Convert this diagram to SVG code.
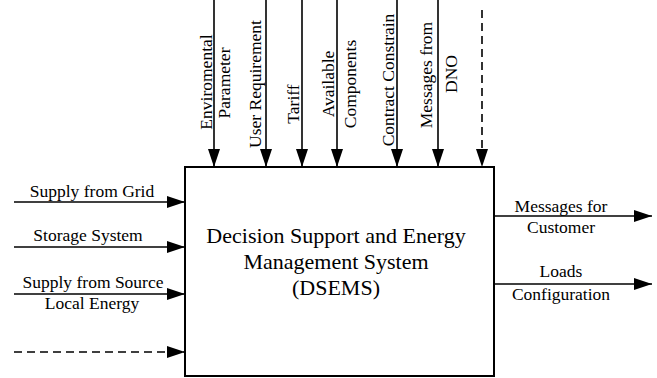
<svg xmlns="http://www.w3.org/2000/svg" width="657" height="378" viewBox="0 0 657 378">
<style>
text{font-family:"Liberation Serif","Times New Roman",serif;fill:#000}
.l{font-size:17.5px}
.m{font-size:22px;text-anchor:middle}
.c{text-anchor:middle}
.ln{stroke:#000;stroke-width:1.6;fill:none}
.d{stroke-dasharray:8 5}
</style>
<defs>
<marker id="ah" markerUnits="userSpaceOnUse" markerWidth="18" markerHeight="12" refX="18" refY="6" orient="auto">
<path d="M0,0 L18,6 L0,12 Z" fill="#000"/>
</marker>
</defs>
<rect width="657" height="378" fill="#fff"/>
<g id="dsems">
<rect x="185" y="167" width="309" height="209" fill="#fff" stroke="#000" stroke-width="2"/>
<text class="m" x="336" y="243">Decision Support and Energy</text>
<text class="m" x="336" y="269">Management System</text>
<text class="m" x="336" y="295">(DSEMS)</text>
</g>
<g id="connectors">
<line class="ln" x1="214" y1="0" x2="214" y2="167" marker-end="url(#ah)"/>
<line class="ln" x1="266" y1="0" x2="266" y2="167" marker-end="url(#ah)"/>
<line class="ln" x1="302" y1="0" x2="302" y2="167" marker-end="url(#ah)"/>
<line class="ln" x1="337" y1="0" x2="337" y2="167" marker-end="url(#ah)"/>
<line class="ln" x1="397" y1="0" x2="397" y2="167" marker-end="url(#ah)"/>
<line class="ln" x1="438" y1="0" x2="438" y2="167" marker-end="url(#ah)"/>
<line class="ln d" x1="482" y1="10" x2="482" y2="167" marker-end="url(#ah)"/>
<line class="ln" x1="14" y1="202" x2="185" y2="202" marker-end="url(#ah)"/>
<line class="ln" x1="14" y1="247" x2="185" y2="247" marker-end="url(#ah)"/>
<line class="ln" x1="14" y1="294" x2="185" y2="294" marker-end="url(#ah)"/>
<line class="ln d" x1="14" y1="352" x2="185" y2="352" marker-end="url(#ah)"/>
<line class="ln" x1="494" y1="216" x2="652" y2="216" marker-end="url(#ah)"/>
<line class="ln" x1="494" y1="284" x2="652" y2="284" marker-end="url(#ah)"/>
</g>
<g id="in-top-labels" class="l">
<text class="c" transform="translate(212,82) rotate(-90)">Enviromental</text>
<text class="c" transform="translate(230,83) rotate(-90)">Parameter</text>
<text class="c" transform="translate(261,84) rotate(-90)">User Requirement</text>
<text class="c" transform="translate(299,104) rotate(-90)">Tariff</text>
<text class="c" transform="translate(334,84) rotate(-90)">Available</text>
<text class="c" transform="translate(356,84) rotate(-90)">Components</text>
<text class="c" transform="translate(394,80) rotate(-90)">Contract Constrain</text>
<text class="c" transform="translate(432,75) rotate(-90)">Messages from</text>
<text class="c" transform="translate(457,74) rotate(-90)">DNO</text>
</g>
<g id="in-left-labels" class="l">
<text class="c" x="92" y="197">Supply from Grid</text>
<text class="c" x="88" y="241">Storage System</text>
<text class="c" x="93" y="288">Supply from Source</text>
<text class="c" x="92" y="309">Local Energy</text>
</g>
<g id="out-labels" class="l">
<text class="c" x="561" y="212">Messages for</text>
<text class="c" x="561" y="233">Customer</text>
<text class="c" x="561" y="277">Loads</text>
<text class="c" x="561" y="300">Configuration</text>
</g>
</svg>
